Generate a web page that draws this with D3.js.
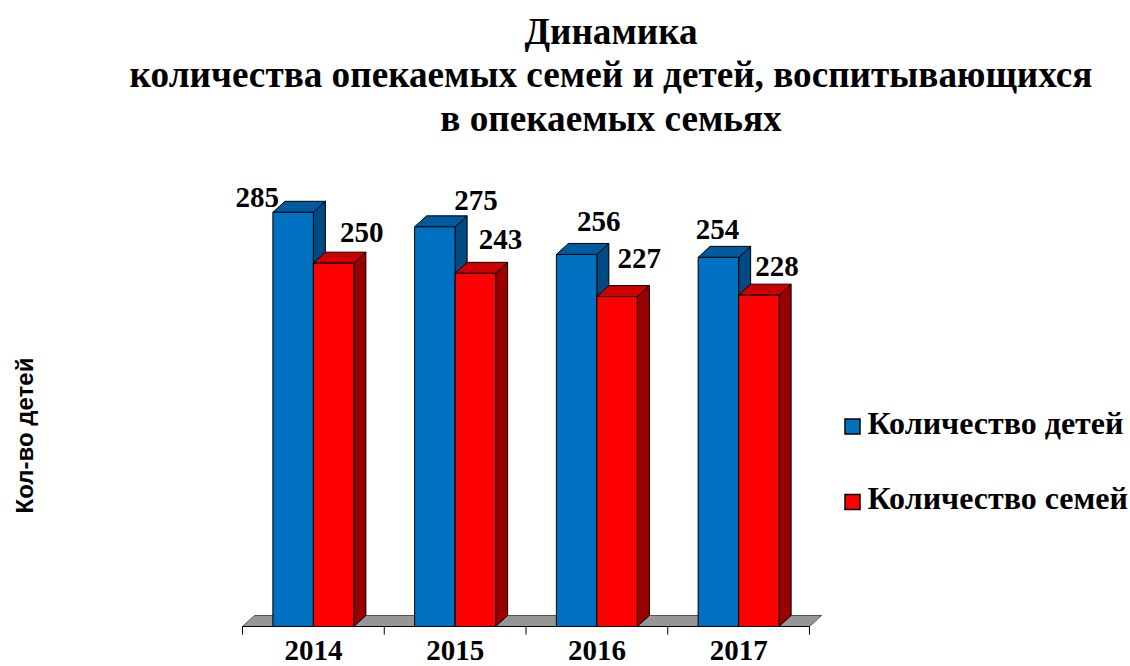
<!DOCTYPE html>
<html lang="ru">
<head>
<meta charset="utf-8">
<script src="https://cdn.jsdelivr.net/npm/d3@7"></script>
<style>
  body { margin: 0; background: #fff; }
  svg { display: block; }
</style>
</head>
<body>
<div id="chart"></div>
<script>
/* =========================
   Data
========================= */
const years = ["2014", "2015", "2016", "2017"];
const seriesNames = ["Количество детей", "Количество семей"];
const childrenCount = [285, 275, 256, 254];
const familiesCount = [250, 243, 227, 228];
const titleLines = [
    "Динамика",
    "количества опекаемых семей и детей, воспитывающихся",
    "в опекаемых семьях"
];
const yAxisTitle = "Кол-во детей";

/* =========================
   Layout
========================= */
const W = 1130, H = 666;
const depth = { dx: 12, dy: -11 };
const serif = "'Liberation Serif', 'Times New Roman', serif";

const colors = [
    { front: "#0070C0", top: "#005A9E", side: "#004A84" },
    { front: "#FF0000", top: "#CC0000", side: "#990000" }
];

// hand-placed value labels in the original: shift from bar front centre / back top
const labelNudge = [
    [[-36, 6], [41, -6], [22, -12], [-1, -7]],
    [[28, -10], [25, -13], [22, -18], [18, -8]]
];

const svg = d3.select("#chart")
    .append("svg")
    .attr("width", W)
    .attr("height", H);

svg.append("rect").attr("width", W).attr("height", H).attr("fill", "#fff");

const x = d3.scaleBand()
    .domain(years)
    .range([242.5, 809.5])
    .paddingInner(0)
    .paddingOuter(0);

const xSub = d3.scaleBand()
    .domain(d3.range(seriesNames.length))
    .range([0, x.bandwidth()])
    .paddingInner(0)
    .paddingOuter(0.75);

const y = d3.scaleLinear()
    .domain([0, 300])
    .range([626.5, 190.5]);

const values = [childrenCount, familiesCount];
const y0 = y(0);

/* =========================
   Title
========================= */
svg.append("text")
    .attr("x", 611)
    .attr("y", 43.5)
    .attr("text-anchor", "middle")
    .attr("font-family", serif)
    .attr("font-weight", "bold")
    .attr("font-size", 37.2)
    .selectAll("tspan")
    .data(titleLines)
    .join("tspan")
    .attr("x", 611)
    .attr("dy", (d, i) => i === 0 ? 0 : 43.5)
    .text(d => d);

/* =========================
   Floor + axis
========================= */
const [fx0, fx1] = x.range();
svg.append("polygon")
    .attr("points", [
        [fx0, y0], [fx1, y0],
        [fx1 + depth.dx, y0 + depth.dy], [fx0 + depth.dx, y0 + depth.dy]
    ].join(" "))
    .attr("fill", "#969696")
    .attr("stroke", "#333")
    .attr("stroke-width", 0.8);

const axisG = svg.append("g").attr("stroke", "#000").attr("stroke-width", 1);
axisG.append("line")
    .attr("x1", fx0).attr("x2", fx1)
    .attr("y1", y0).attr("y2", y0);
axisG.selectAll(".tick")
    .data(years.map(d => x(d)).concat([fx1]))
    .join("line")
    .attr("x1", d => d).attr("x2", d => d)
    .attr("y1", y0).attr("y2", y0 + 8);

svg.append("g")
    .selectAll("text")
    .data(years)
    .join("text")
    .attr("x", d => x(d) + x.bandwidth() / 2)
    .attr("y", 660)
    .attr("text-anchor", "middle")
    .attr("font-family", serif)
    .attr("font-weight", "bold")
    .attr("font-size", 29)
    .text(d => d);

/* =========================
   3D bars
========================= */
const barsG = svg.append("g");
seriesNames.forEach((name, s) => {
    years.forEach((yr, i) => {
        const v = values[s][i];
        const xl = x(yr) + xSub(s);
        const xr = xl + xSub.bandwidth();
        const yt = y(v);
        const g = barsG.append("g")
            .attr("stroke", "#000")
            .attr("stroke-width", 1)
            .attr("stroke-linejoin", "round");
        g.append("polygon")
            .attr("points", [[xr, yt], [xr + depth.dx, yt + depth.dy],
                [xr + depth.dx, y0 + depth.dy], [xr, y0]].join(" "))
            .attr("fill", colors[s].side);
        g.append("polygon")
            .attr("points", [[xl, yt], [xr, yt], [xr + depth.dx, yt + depth.dy],
                [xl + depth.dx, yt + depth.dy]].join(" "))
            .attr("fill", colors[s].top);
        g.append("rect")
            .attr("x", xl)
            .attr("y", yt)
            .attr("width", xr - xl)
            .attr("height", y0 - yt)
            .attr("fill", colors[s].front);
    });
});

/* =========================
   Value labels
========================= */
seriesNames.forEach((name, s) => {
    svg.append("g")
        .selectAll("text")
        .data(values[s])
        .join("text")
        .attr("x", (d, i) => x(years[i]) + xSub(s) + xSub.bandwidth() / 2 + labelNudge[s][i][0])
        .attr("y", (d, i) => y(d) + depth.dy + labelNudge[s][i][1])
        .attr("text-anchor", "middle")
        .attr("font-family", serif)
        .attr("font-weight", "bold")
        .attr("font-size", 29)
        .text(d => d);
});

/* =========================
   Y axis title
========================= */
svg.append("text")
    .attr("transform", "translate(33,435.5) rotate(-90)")
    .attr("text-anchor", "middle")
    .attr("font-family", "'Liberation Sans', Arial, sans-serif")
    .attr("font-weight", "bold")
    .attr("font-size", 24)
    .text(yAxisTitle);

/* =========================
   Legend
========================= */
const legend = svg.append("g")
    .selectAll("g")
    .data(seriesNames)
    .join("g")
    .attr("transform", (d, i) => `translate(845,${419 + i * 75.5})`);

legend.append("rect")
    .attr("width", 15)
    .attr("height", 15)
    .attr("fill", (d, i) => colors[i].front)
    .attr("stroke", "#000")
    .attr("stroke-width", 1.5);

legend.append("text")
    .attr("x", 22.5)
    .attr("y", 14.5)
    .attr("font-family", serif)
    .attr("font-weight", "bold")
    .attr("font-size", 32)
    .text(d => d);
</script>
</body>
</html>
